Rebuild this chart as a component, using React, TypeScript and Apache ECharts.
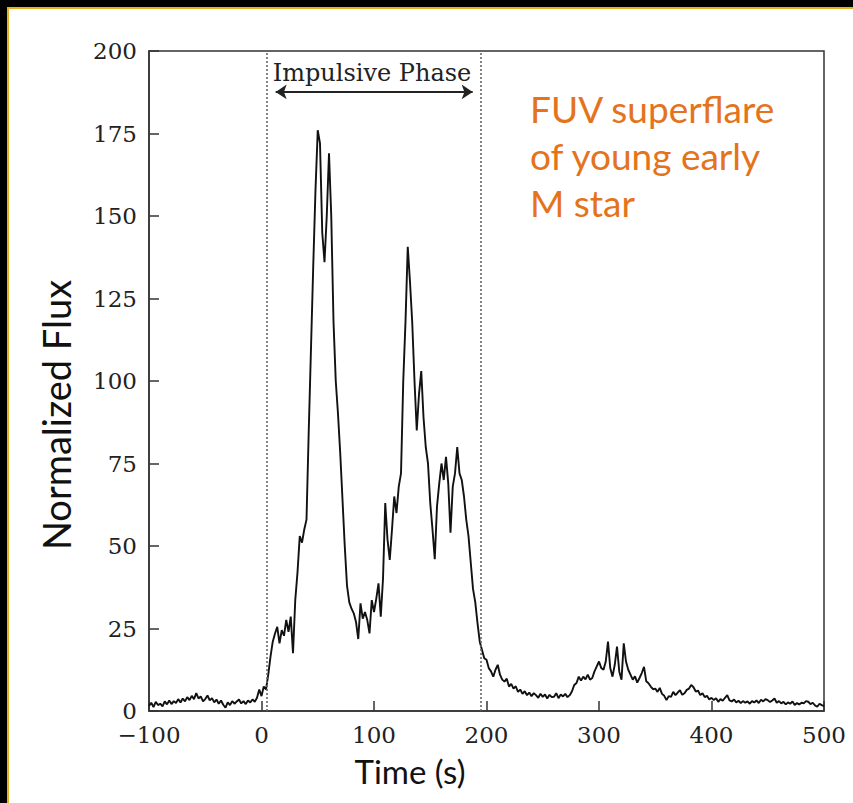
import React, { useEffect, useRef } from "react";
import * as echarts from "echarts";

const STEP = 2;

const preFlareStart = -100;
const preFlare = [
  1.5, 2.5, 1.2, 2.8, 1.8, 2.2, 1.4, 2.9, 2.0, 3.2,
  2.1, 3.0, 2.4, 3.6, 2.6, 3.8, 2.9, 4.2, 3.3, 4.6,
  3.6, 5.4, 3.8, 4.4, 2.9, 3.6, 4.7, 3.2, 3.9, 2.6,
  3.5, 2.2, 3.2, 1.9, 1.0, 2.6, 1.8, 3.0, 2.2, 2.9,
  3.5, 2.3, 3.0, 2.1, 3.2, 2.6, 3.5, 2.8, 4.0, 6.5,
];

const firstPeakStart = 0;
const firstPeak = [
  4.5, 7.4, 6.5, 11, 16.5, 21, 23.5, 25.5, 20.5, 24.5,
  22.8, 27.6, 24, 28.6, 17.5, 33.6, 42, 53, 51, 55,
  58, 85, 110, 135, 158, 176, 172, 145, 136, 150,
  169, 150, 118, 100, 90, 78, 64, 50, 38, 33,
  31, 29.6, 27, 21.8, 32.6, 28, 30, 27.6, 23.5, 33.6,
];

const secondPeakStart = 100;
const secondPeak = [
  30, 34, 38.7, 28.6, 40, 63, 52, 45.8, 55, 65,
  60, 68, 72, 100, 118, 140.7, 130, 117.6, 100, 85,
  96, 103, 89, 80, 75, 63, 55, 46, 62, 69,
  75, 70, 77, 69, 54, 68, 72, 80, 72, 70,
  65, 58, 53, 45, 37, 33, 26.6, 21, 18.5, 16,
];

const decayStart = 200;
const decay = [
  15.5, 13, 12, 10.4, 12.5, 14, 11, 9.5, 8.9, 9.8,
  7.4, 8.2, 6.8, 7.5, 5.8, 6.5, 5.2, 6.0, 4.8, 5.6,
  4.5, 5.4, 4.8, 4.0, 5.2, 4.3, 5.0, 3.8, 4.9, 4.2,
  4.3, 5.4, 3.9, 5.0, 4.4, 5.2,
];

const bumpStart = 272;
const bump = [
  4.2, 4.8, 6.0, 7.9, 8.5, 10.4, 9.2, 10.4, 9.6, 11,
  9.5, 10, 12, 13.5, 15, 13, 12.5, 15, 21, 13,
  10.4, 14, 19.5, 12, 9.5, 20.5, 15, 12.5, 11, 9.5,
  10.5, 8.6, 10, 11.5, 13.4, 9, 8.4, 7.4, 6.6, 6.8,
  5.8, 7, 5.2, 4.6, 3.3,
];

const tailStart = 362;
const tail = [
  4.5, 4.3, 5.8, 4.8, 5.6, 6.3, 4.9, 5.4, 6.4, 6.8,
  7.9, 7.2, 5.9, 6.2, 4.8, 5.4, 4.2, 4.6, 3.5, 4.0,
  3.3, 3.9, 2.8, 3.6, 3.1, 4.0, 4.8, 3.2, 2.9, 3.5,
  2.6, 3.1, 2.4, 3.0, 2.5, 2.9, 2.2, 3.0, 2.6, 3.2,
  2.4, 3.4, 2.9, 3.6, 3.3, 2.7, 3.2, 3.8, 2.5, 3.0,
  2.3, 2.8, 2.0, 2.6, 2.2, 2.9, 1.8, 2.4, 2.0, 2.5,
  2.3, 3.0, 2.8, 2.1, 2.5, 1.7, 1.3, 2.2, 1.8, 1.5,
];

const phaseStart = 4.4;
const phaseEnd = 195;
const arrowFrom = 12.6;
const arrowTo = 187.7;
const arrowLevel = 187.6;

const xMin = -100;
const xMax = 500;
const xStep = 100;
const yMin = 0;
const yMax = 200;
const yStep = 25;

const segments: [number, number[]][] = [
  [preFlareStart, preFlare],
  [firstPeakStart, firstPeak],
  [secondPeakStart, secondPeak],
  [decayStart, decay],
  [bumpStart, bump],
  [tailStart, tail],
];

function buildSeries(): [number, number][] {
  const out: [number, number][] = [];
  for (const [start, vals] of segments) {
    vals.forEach((v, i) => out.push([start + i * STEP, v]));
  }
  return out;
}

const tickFont = "DejaVu Serif";
const titleFont = "Lato";

export default function App() {
  const ref = useRef<HTMLDivElement>(null);

  useEffect(() => {
    if (!ref.current) return;
    const chart = echarts.init(ref.current, null, { renderer: "svg" });
    chart.setOption({
      animation: false,
      backgroundColor: "transparent",
      grid: {
        left: 149,
        top: 51,
        right: 29,
        bottom: 92,
        show: true,
        borderColor: "#333",
        borderWidth: 1.5,
        backgroundColor: "transparent",
      },
      xAxis: {
        type: "value",
        min: xMin,
        max: xMax,
        interval: xStep,
        splitLine: { show: false },
        axisLine: { show: true, onZero: false, lineStyle: { color: "#333", width: 1.5 } },
        axisTick: { show: true, inside: true, length: 10, lineStyle: { color: "#333", width: 1.5 } },
        axisLabel: {
          fontFamily: tickFont,
          fontSize: 23,
          color: "#222",
          margin: 12,
          formatter: (v: number) => (v < 0 ? "\u2212" + Math.abs(v) : String(v)),
        },
      },
      yAxis: {
        type: "value",
        min: yMin,
        max: yMax,
        interval: yStep,
        splitLine: { show: false },
        axisLine: { show: true, onZero: false, lineStyle: { color: "#333", width: 1.5 } },
        axisTick: { show: true, inside: true, length: 10, lineStyle: { color: "#333", width: 1.5 } },
        axisLabel: {
          fontFamily: tickFont,
          fontSize: 23,
          color: "#222",
          margin: 12,
        },
      },
      series: [
        {
          type: "line",
          data: buildSeries(),
          showSymbol: false,
          symbol: "none",
          lineStyle: { color: "#111", width: 1.9 },
          z: 3,
          markLine: {
            silent: true,
            symbol: ["none", "none"],
            symbolSize: 11,
            label: { show: false },
            animation: false,
            data: [
              { xAxis: phaseStart, lineStyle: { type: [2, 2], color: "#666", width: 1.6 } },
              { xAxis: phaseEnd, lineStyle: { type: [2, 2], color: "#666", width: 1.6 } },
              [
                { coord: [arrowFrom, arrowLevel], symbol: "arrow", lineStyle: { type: "solid", color: "#222", width: 2.2 } },
                { coord: [arrowTo, arrowLevel], symbol: "arrow" },
              ],
            ],
          },
        },
      ],
      graphic: [
        {
          type: "text",
          x: 372,
          y: 73,
          style: {
            text: "Impulsive Phase",
            font: "24px 'DejaVu Serif'",
            fill: "#222",
            align: "center",
            verticalAlign: "middle",
            textAlign: "center",
            textVerticalAlign: "middle",
          },
        },
        {
          type: "text",
          x: 530,
          y: 85,
          style: {
            text: "FUV superflare\nof young early\nM star",
            font: "37px " + titleFont,
            lineHeight: 47,
            fill: "#e4731b",
            align: "left",
            verticalAlign: "top",
            textAlign: "left",
            textVerticalAlign: "top",
          },
        },
        {
          type: "text",
          x: 410,
          y: 771,
          style: {
            text: "Time (s)",
            font: "33px " + titleFont,
            fill: "#111",
            align: "center",
            verticalAlign: "middle",
            textAlign: "center",
            textVerticalAlign: "middle",
          },
        },
        {
          type: "text",
          x: 56,
          y: 415,
          rotation: Math.PI / 2,
          style: {
            text: "Normalized Flux",
            font: "38px " + titleFont,
            fill: "#111",
            align: "center",
            verticalAlign: "middle",
            textAlign: "center",
            textVerticalAlign: "middle",
          },
        },
      ],
    });
    return () => chart.dispose();
  }, []);

  return (
    <div style={{ position: "fixed", left: 0, top: 0, width: 853, height: 803, background: "#000", overflow: "hidden" }}>
      <div
        style={{
          position: "absolute",
          left: 7,
          top: 7,
          right: 0,
          bottom: 0,
          background: "#fff",
          borderLeft: "2px solid #e6b31e",
          borderTop: "2px solid #e6b31e",
        }}
      />
      <div ref={ref} style={{ position: "absolute", left: 0, top: 0, width: 853, height: 803 }} />
    </div>
  );
}
